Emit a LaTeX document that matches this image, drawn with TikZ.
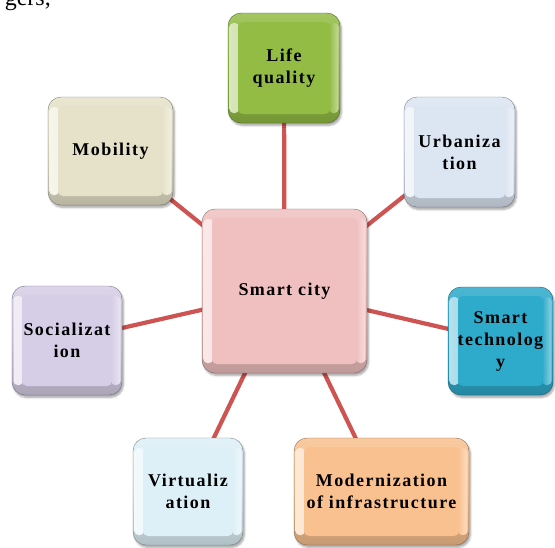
\documentclass[tikz,border=0pt]{standalone}
\usepackage{fontspec}
\setmainfont{Liberation Serif}
\newfontfamily\cellfont[LetterSpace=8]{Liberation Serif}
\usetikzlibrary{backgrounds,shadows.blur}

\definecolor{linkred}{HTML}{CD5452}
\definecolor{cGreen}{HTML}{93BC45}
\definecolor{cCream}{HTML}{E6E2C9}
\definecolor{cIce}{HTML}{DCE5F2}
\definecolor{cTeal}{HTML}{2EAACB}
\definecolor{cPink}{HTML}{F0C0C0}
\definecolor{cLilac}{HTML}{D6CEE6}
\definecolor{cSky}{HTML}{DDF0F7}
\definecolor{cPeach}{HTML}{F9C18F}

\tikzset{
  link/.style={draw=linkred, line width=4.2pt},
  cell/.style={
    rounded corners=13pt,
    draw=#1!55!black, line width=0.4pt,
    top color=#1!85!white, bottom color=#1!80!black, middle color=#1!95!black,
    blur shadow={shadow xshift=1.5pt, shadow yshift=-2.5pt, shadow opacity=35, shadow blur steps=6},
    path picture={
      % soft bevel highlights on the left and right
      \shade[left color=#1!35!white, right color=#1, rounded corners=4pt]
        ([shift={(1.5pt,-10pt)}]path picture bounding box.north west)
        rectangle ([shift={(11pt,10pt)}]path picture bounding box.south west);
      \shade[left color=#1, right color=#1!55!white, rounded corners=4pt]
        ([shift={(-11pt,-10pt)}]path picture bounding box.north east)
        rectangle ([shift={(-1.5pt,10pt)}]path picture bounding box.south east);
      % flat inner face
      \fill[#1, rounded corners=5pt]
        ([shift={(10pt,-9pt)}]path picture bounding box.north west)
        rectangle ([shift={(-10pt,9pt)}]path picture bounding box.south east);
    },
    align=center, text=black, inner sep=0pt,
    font=\cellfont\bfseries\fontsize{18}{22}\selectfont
  }
}

\begin{document}
\begin{tikzpicture}[x=1pt, y=-1pt]
  \useasboundingbox (0,0) rectangle (555,547);

  % tail of the running text above the figure
  \node[anchor=base east, inner sep=0pt, font=\fontsize{24}{28}\selectfont] (frag) at (51,5) {gers,};

  % hub and spokes
  \node[cell=cPink,  minimum width=165pt, minimum height=164pt] (city)  at (284.5,291)   {Smart city};
  \node[cell=cGreen, minimum width=112pt, minimum height=110pt] (lifeq) at (284,68)      {Life\\quality};
  \node[cell=cCream, minimum width=125pt, minimum height=108pt] (mob)   at (110.5,151)   {Mobility};
  \node[cell=cIce,   minimum width=111pt, minimum height=110pt] (urb)   at (459.5,152)   {Urbaniza\\tion};
  \node[cell=cTeal,  minimum width=105pt, minimum height=108pt] (tech)  at (500.5,341)   {Smart\\technolog\\y};
  \node[cell=cLilac, minimum width=110pt, minimum height=109pt] (soc)   at (67,340.5)    {Socializat\\ion};
  \node[cell=cSky,   minimum width=110pt, minimum height=107pt] (virt)  at (188,491.5)   {Virtualiz\\ation};
  \node[cell=cPeach, minimum width=175pt, minimum height=107pt] (mod)   at (381.5,491.5) {Modernization\\of infrastructure};

  % connectors run behind the boxes
  \begin{scope}[on background layer]
    \foreach \t in {lifeq,mob,urb,tech,soc,virt,mod}
      \draw[link] (city.center) -- (\t.center);
  \end{scope}
\end{tikzpicture}
\end{document}
